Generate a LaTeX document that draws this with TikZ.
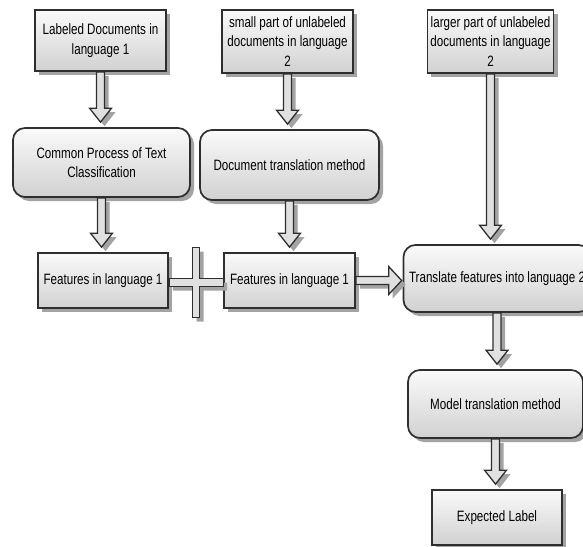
\documentclass[tikz,border=0pt]{standalone}
\usepackage{fontspec}
\setmainfont{Liberation Sans}[FakeStretch=0.775]
\usetikzlibrary{shadows,calc}
\definecolor{bd}{HTML}{2E2E2E}
\definecolor{shd}{HTML}{A3A3A3}
\tikzset{
  box/.style={draw=bd, line width=1.7pt, top color=black!2, bottom color=black!18,
    align=center, font=\fontsize{15}{19.5}\selectfont, inner sep=3pt,
    drop shadow={shadow xshift=4pt, shadow yshift=-4pt, fill=shd, opacity=1}},
  sqbox/.style={box},
  rbox/.style={box, rounded corners=12pt},
  blk/.style={draw=bd, line width=1.3pt, fill=black!12,
    drop shadow={shadow xshift=4pt, shadow yshift=-4pt, fill=shd, opacity=1}},
}
\newcommand\vblk[2]{%
  \path[blk] let \p1=(#1.south), \p2=(#2.north) in
    (\x1-4pt,\y1) -- (\x1+4pt,\y1) -- (\x1+4pt,\y2+19pt) -- (\x1+11pt,\y2+19pt)
    -- (\x1,\y2+5pt) -- (\x1-11pt,\y2+19pt) -- (\x1-4pt,\y2+19pt) -- cycle;}
\begin{document}
\begin{tikzpicture}[x=1pt,y=-1pt]
\useasboundingbox (0,0) rectangle (583,546);
\clip (0,0) rectangle (583,546);
% top row
\node[sqbox, minimum width=131pt, minimum height=61pt] (A) at (100.5,40.5) {Labeled Documents in\\language 1};
\node[sqbox, minimum width=131pt, minimum height=63pt] (B) at (287.5,41.5) {small part of unlabeled\\documents in language\\2};
\node[sqbox, minimum width=125pt, minimum height=63pt] (C) at (490.5,41.5) {larger part of unlabeled\\documents in language\\2};
% second row
\node[rbox, minimum width=177pt, minimum height=69pt] (P) at (101.5,162.5) {Common Process of Text\\Classification};
\node[rbox, minimum width=179pt, minimum height=70pt] (D) at (289.5,165) {Document translation method};
% third row
\node[sqbox, minimum width=130pt, minimum height=55pt] (F1) at (103,280.5) {Features in language 1};
\node[sqbox, minimum width=131pt, minimum height=55pt] (F2) at (289.5,280.5) {Features in language 1};
\node[rbox, minimum width=187pt, minimum height=67pt] (T) at (497,278.5) {Translate features into language 2};
% lower right
\node[rbox, minimum width=175pt, minimum height=68pt] (M) at (495.5,404) {Model translation method};
\node[sqbox, minimum width=130pt, minimum height=55pt] (E) at (497,517.5) {Expected Label};
% vertical block arrows
\vblk{A}{P}
\vblk{P}{F1}
\vblk{B}{D}
\vblk{D}{F2}
\vblk{C}{T}
\vblk{T}{M}
\vblk{M}{E}
% horizontal block arrow F2 -> T
\path[blk] let \p1=(F2.east), \p2=(T.west) in
  (\x1,\y1+4pt) -- (\x2-14pt,\y1+4pt) -- (\x2-14pt,\y1+14pt) -- (\x2-1pt,\y1)
  -- (\x2-14pt,\y1-14pt) -- (\x2-14pt,\y1-4pt) -- (\x1,\y1-4pt) -- cycle;
% cross between F1 and F2
\path[blk] let \p1=(F1.east), \p2=(F2.west), \n1={(\x1+\x2)/2} in
  (\x1,\y1+2pt) -- (\n1-3.5pt,\y1+2pt) -- (\n1-3.5pt,\y1+33pt) -- (\n1+3.5pt,\y1+33pt)
  -- (\n1+3.5pt,\y1+2pt) -- (\x2,\y1+2pt) -- (\x2,\y1-6pt) -- (\n1+3.5pt,\y1-6pt)
  -- (\n1+3.5pt,\y1-37pt) -- (\n1-3.5pt,\y1-37pt) -- (\n1-3.5pt,\y1-6pt) -- (\x1,\y1-6pt) -- cycle;
\end{tikzpicture}
\end{document}
